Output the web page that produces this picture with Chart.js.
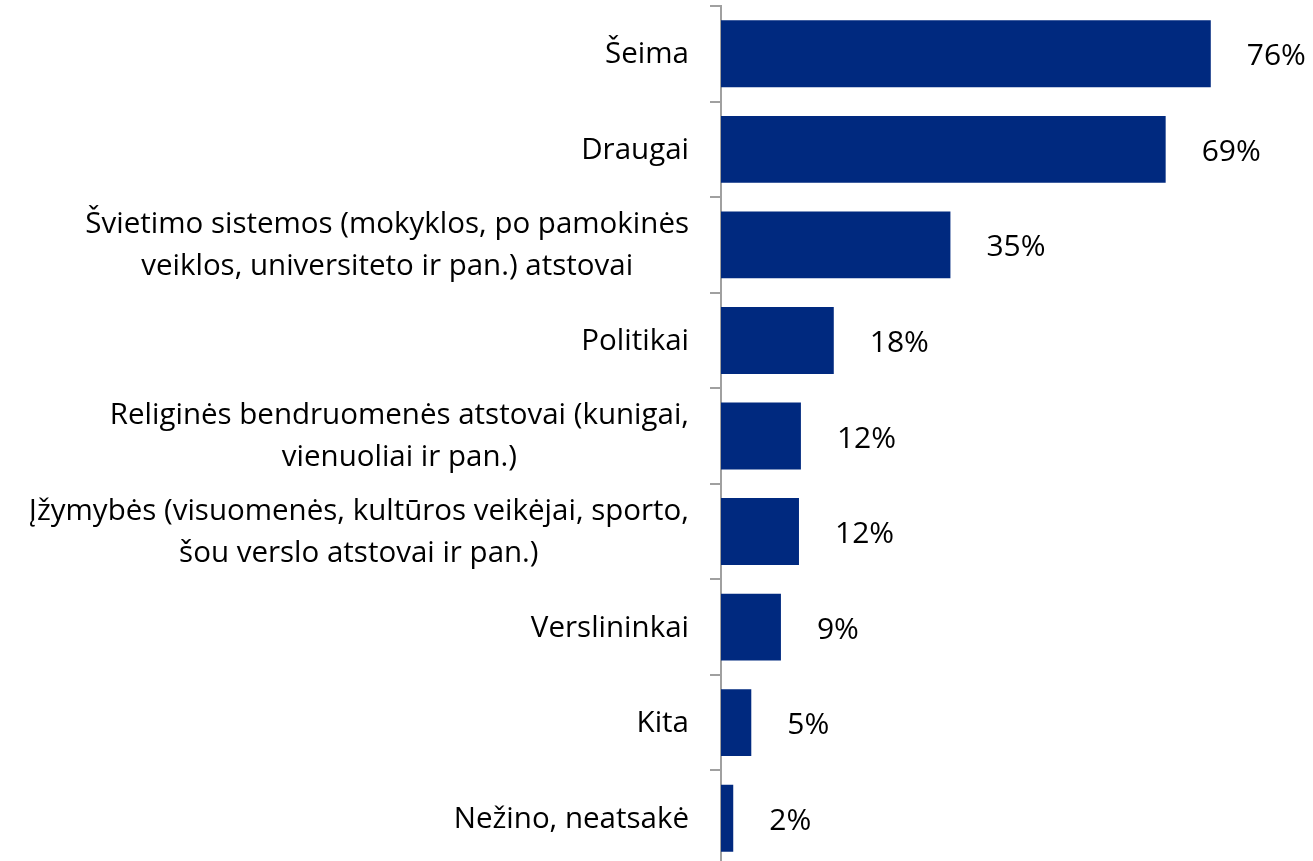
<!DOCTYPE html>
<html>
<head>
<meta charset="utf-8">
<script src="https://cdn.jsdelivr.net/npm/chart.js@4"></script>
<style>
  html, body { margin: 0; padding: 0; background: #fff; overflow: hidden; }
  #wrap { width: 1313px; height: 870px; }
</style>
</head>
<body>
<div id="wrap"><canvas id="chart"></canvas></div>
<script>
// Categories (top to bottom), bar values and the label shown next to each bar
const categories = [
    ["Šeima"],
    ["Draugai"],
    ["Švietimo sistemos (mokyklos, po pamokinės", "veiklos, universiteto ir pan.) atstovai"],
    ["Politikai"],
    ["Religinės bendruomenės atstovai (kunigai,", "vienuoliai ir pan.)"],
    ["Įžymybės (visuomenės, kultūros veikėjai, sporto,", "šou verslo atstovai ir pan.)"],
    ["Verslininkai"],
    ["Kita"],
    ["Nežino, neatsakė"]
];
const values = [76, 69, 35.6, 17.5, 12.4, 12.1, 9.3, 4.7, 1.9];
const valueLabels = ["76%", "69%", "35%", "18%", "12%", "12%", "9%", "5%", "2%"];

const FONT = "'Open Sans', Lato, sans-serif";

// draws the category names (lines centred on each other, block right-aligned)
// and the percentage next to every bar
const labelPlugin = {
    id: "labels",
    afterDraw(chart) {
        const ctx = chart.ctx;
        const y = chart.scales.y;
        const meta = chart.getDatasetMeta(0);
        ctx.save();
        ctx.fillStyle = "#000";
        ctx.textBaseline = "middle";

        ctx.font = "29.5px " + FONT;
        ctx.textAlign = "center";
        const right = chart.chartArea.left - 32;
        const lh = 42;
        categories.forEach((lines, i) => {
            const cy = y.getPixelForTick(i) + 1;
            const w = Math.max(...lines.map(l => ctx.measureText(l).width));
            const cx = right - w / 2;
            const top = cy - (lines.length - 1) * lh / 2;
            lines.forEach((l, j) => ctx.fillText(l, cx, top + j * lh));
        });

        ctx.font = "30px " + FONT;
        ctx.textAlign = "left";
        meta.data.forEach((bar, i) => {
            ctx.fillText(valueLabels[i], bar.x + 36, bar.y + 3);
        });
        ctx.restore();
    }
};

const ctx = document.getElementById("chart").getContext("2d");
new Chart(ctx, {
    type: "bar",
    data: {
        labels: categories.map(c => c.join(" ")),
        datasets: [{
            data: values,
            backgroundColor: "#00297f",
            borderWidth: 0,
            categoryPercentage: 1,
            barPercentage: 0.7
        }]
    },
    options: {
        indexAxis: "y",
        responsive: true,
        maintainAspectRatio: false,
        animation: false,
        layout: { padding: { top: 6, right: 12, bottom: 4, left: 0 } },
        plugins: {
            legend: { display: false },
            tooltip: { enabled: false }
        },
        scales: {
            x: { display: false, min: 0, max: 90 },
            y: {
                afterFit: s => { s.width = 721; },
                ticks: { display: false },
                grid: {
                    drawOnChartArea: false,
                    drawTicks: true,
                    tickLength: 11,
                    color: "#a0a0a0",
                    lineWidth: 2
                },
                border: { color: "#a0a0a0", width: 2 }
            }
        }
    },
    plugins: [labelPlugin]
});
</script>
</body>
</html>
